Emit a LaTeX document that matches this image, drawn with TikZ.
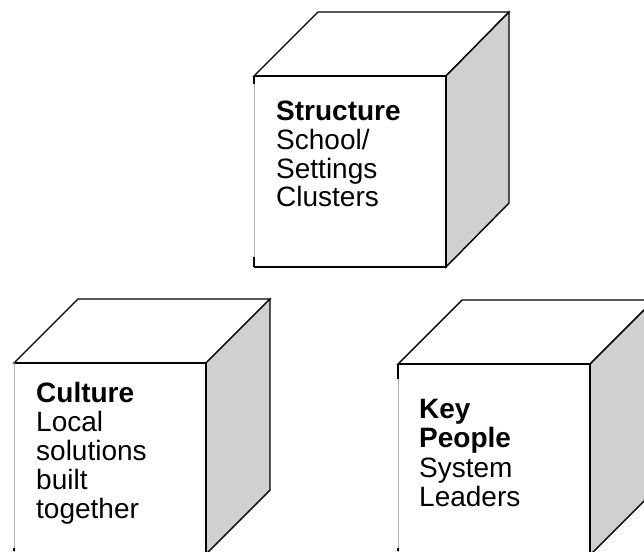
\documentclass[tikz,border=0pt]{standalone}
\usepackage{fontspec}
\setmainfont{Liberation Sans}
\begin{document}
\begin{tikzpicture}[x=1pt,y=-1pt,
  edge/.style={draw=black,line width=1.4pt,line join=miter},
  sideface/.style={fill=sidegray,draw=black,line width=1.4pt,line join=miter},
  topface/.style={fill=white,draw=black,line width=1.4pt,line join=miter},
  leftedge/.style={draw=edgegray,line width=0.9pt},
  darkbit/.style={draw=black,line width=1.4pt},
  txt/.style={anchor=base west,inner sep=0pt,font=\fontsize{28}{29}\selectfont},
  btxt/.style={txt,font=\fontsize{28}{29}\selectfont\bfseries}]
\definecolor{sidegray}{HTML}{D0D0D0}
\definecolor{edgegray}{HTML}{B4B4B4}
\useasboundingbox (0,0) rectangle (644,551);
\begin{scope}
\clip (0,0) rectangle (644,551);
% ---------- top cube ----------
\coordinate (tA) at (254,76);
\coordinate (tB) at (446,76);
\coordinate (tC) at (446,267);
\coordinate (tD) at (254,267);
\coordinate (tE) at (318,12);
\coordinate (tF) at (509,12);
\coordinate (tG) at (509,203);
\fill[white] (tA) rectangle (tC);
\path[topface] (tA) -- (tE) -- (tF) -- (tB) -- cycle;
\path[sideface] (tB) -- (tF) -- (tG) -- (tC) -- cycle;
\draw[edge] (tA) -- (tB) -- (tC) -- (tD);
\draw[leftedge] (tA) -- (tD);
\draw[darkbit] (tA) -- ++(0,8);
\draw[darkbit] (tD) -- ++(0,-10);
\node[btxt] (t1) at (276,120.5) {Structure};
\node[txt] (t2) at (276,149.5) {School/};
\node[txt] (t3) at (276,178) {Settings};
\node[txt] (t4) at (276,206.5) {Clusters};
% ---------- left cube ----------
\coordinate (lA) at (14,363);
\coordinate (lB) at (206,363);
\coordinate (lC) at (206,554);
\coordinate (lD) at (14,554);
\coordinate (lE) at (78,299);
\coordinate (lF) at (270,299);
\coordinate (lG) at (270,490);
\fill[white] (lA) rectangle (lC);
\path[topface] (lA) -- (lE) -- (lF) -- (lB) -- cycle;
\path[sideface] (lB) -- (lF) -- (lG) -- (lC) -- cycle;
\draw[edge] (lA) -- (lB) -- (lC) -- (lD);
\draw[leftedge] (lA) -- (lD);
\draw[darkbit] (14,548) -- (14,551);
\node[btxt] (l1) at (36,402) {Culture};
\node[txt] (l2) at (36,431.5) {Local};
\node[txt] (l3) at (36,460.5) {solutions};
\node[txt] (l4) at (36,489.5) {built};
\node[txt] (l5) at (36,518) {together};
% ---------- right cube ----------
\coordinate (rA) at (398,364);
\coordinate (rB) at (590,364);
\coordinate (rC) at (590,555);
\coordinate (rD) at (398,555);
\coordinate (rE) at (462,300);
\coordinate (rF) at (654,300);
\coordinate (rG) at (654,491);
\fill[white] (rA) rectangle (rC);
\path[topface] (rA) -- (rE) -- (rF) -- (rB) -- cycle;
\path[sideface] (rB) -- (rF) -- (rG) -- (rC) -- cycle;
\draw[edge] (rA) -- (rB) -- (rC) -- (rD);
\draw[leftedge] (rA) -- (rD);
\draw[darkbit] (rA) -- ++(0,15);
\draw[darkbit] (398,548) -- (398,551);
\node[btxt] (r1) at (419,418) {Key};
\node[btxt] (r2) at (419,447.5) {People};
\node[txt] (r3) at (419,477) {System};
\node[txt] (r4) at (419,506.5) {Leaders};
\end{scope}
\end{tikzpicture}
\end{document}
